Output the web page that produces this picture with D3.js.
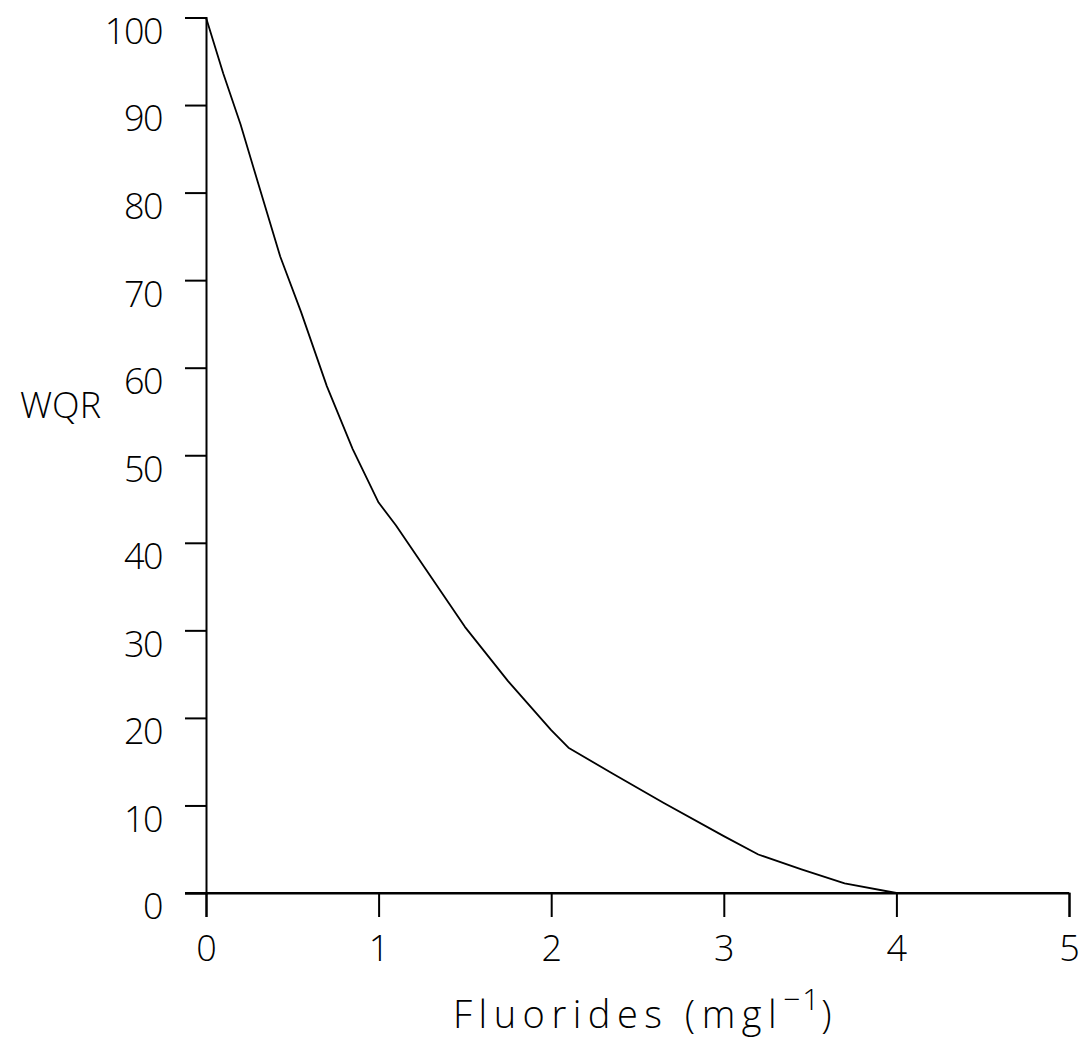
<!DOCTYPE html>
<html>
<head>
<meta charset="utf-8">
<script src="https://cdn.jsdelivr.net/npm/d3@7"></script>
<style>
  html, body { margin: 0; padding: 0; background: #fff; }
  svg text { font-family: "Open Sans", "Liberation Sans", sans-serif; font-weight: 300; fill: #000; }
</style>
</head>
<body>
<svg id="chart" width="1085" height="1046"></svg>
<script>
/* ── data ─────────────────────────────────────────────────────────── */
const fluoride = [0, 0.1, 0.2, 0.3, 0.43, 0.55, 0.7, 0.85, 1.0, 1.1, 1.3, 1.5,
                  1.75, 2.0, 2.1, 2.35, 2.65, 3.0, 3.2, 3.45, 3.7, 4.0];
const wqr      = [100, 93.6, 87.8, 81.2, 72.7, 66.4, 57.9, 50.7, 44.6, 42.0, 36.2, 30.4,
                  24.2, 18.6, 16.6, 13.7, 10.3, 6.5, 4.4, 2.7, 1.1, 0];
const xTicks = [0, 1, 2, 3, 4, 5];
const yTicks = [0, 10, 20, 30, 40, 50, 60, 70, 80, 90, 100];
const xTitle = 'Fluorides (mgl';
const xTitleSup = '\u22121';
const yTitle = 'WQR';

/* ── layout ───────────────────────────────────────────────────────── */
const svg = d3.select('#chart');
const x = d3.scaleLinear().domain([0, 5]).range([206, 1069]);
const y = d3.scaleLinear().domain([0, 100]).range([893, 17.5]);

// x axis: ticks pointing down
const gx = svg.append('g').attr('transform', `translate(0,${y(0)})`)
  .call(d3.axisBottom(x).tickValues(xTicks).tickSizeOuter(0).tickSize(24).tickPadding(18)
    .tickFormat(d3.format('d')));

// y axis: ticks pointing left, labels hanging below their tick
const gy = svg.append('g').attr('transform', `translate(${x(0)},0)`)
  .call(d3.axisLeft(y).tickValues(yTicks).tickSizeOuter(0).tickSize(21).tickPadding(23)
    .tickFormat(d3.format('d')));

[gx, gy].forEach(g => {
  g.selectAll('path.domain').attr('stroke', '#000').attr('stroke-width', 2);
  g.selectAll('.tick line').attr('stroke', '#000').attr('stroke-width', 2);
  g.selectAll('.tick text').attr('font-size', 36).attr('font-family', null);
});
gx.selectAll('.tick text').attr('dy', '0.71em');
gy.selectAll('.tick text').attr('dy', '0.72em').attr('letter-spacing', -1.5);

// the 0-tick of y extends the x axis line to the left
svg.append('line')
  .attr('x1', x(0) - 21).attr('x2', x(5))
  .attr('y1', y(0)).attr('y2', y(0))
  .attr('stroke', '#000').attr('stroke-width', 2);

/* ── curve ────────────────────────────────────────────────────────── */
const pts = fluoride.map((f, i) => [f, wqr[i]]);
svg.append('path')
  .datum(pts)
  .attr('d', d3.line().x(d => x(d[0])).y(d => y(d[1])))
  .attr('fill', 'none')
  .attr('stroke', '#000')
  .attr('stroke-width', 1.8)
  .attr('stroke-linejoin', 'round');

/* ── titles ───────────────────────────────────────────────────────── */
svg.append('text')
  .attr('x', 20).attr('y', 418)
  .attr('font-size', 36)
  .text(yTitle);

const t = svg.append('text')
  .attr('x', 453).attr('y', 1028)
  .attr('font-size', 38)
  .attr('letter-spacing', 6.5);
t.append('tspan').text(xTitle);
t.append('tspan').attr('dy', -18).attr('font-size', 30).attr('letter-spacing', 2).text(xTitleSup);
t.append('tspan').attr('dy', 18).text(')');
</script>
</body>
</html>
